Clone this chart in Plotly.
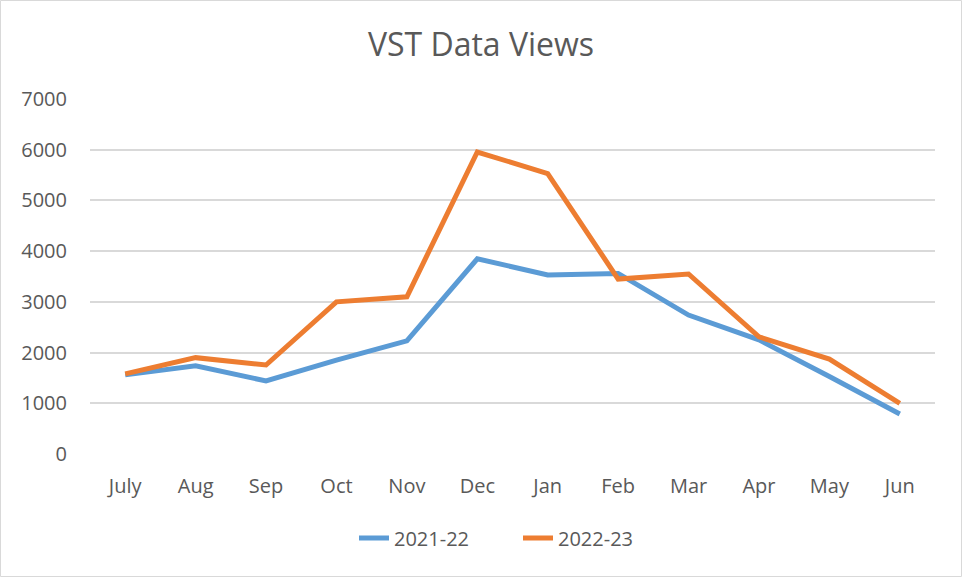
import plotly.graph_objects as go

months = ["July", "Aug", "Sep", "Oct", "Nov", "Dec", "Jan", "Feb", "Mar", "Apr", "May", "Jun"]
views_2021_22 = [1560, 1740, 1440, 1850, 2230, 3850, 3530, 3560, 2740, 2250, 1530, 790]
views_2022_23 = [1580, 1900, 1755, 3000, 3100, 5955, 5530, 3450, 3550, 2310, 1870, 1000]
series_names = ["2021-22", "2022-23"]
y_ticks = [0, 1000, 2000, 3000, 4000, 5000, 6000, 7000]

W, H = 962, 577
L, R, T, B = 90, 27, 99, 123
pw, ph = W - L - R, H - T - B

fig = go.Figure()
fig.add_trace(go.Scatter(x=months, y=views_2021_22, name=series_names[0], mode="lines",
                         line=dict(color="#5B9BD5", width=5)))
fig.add_trace(go.Scatter(x=months, y=views_2022_23, name=series_names[1], mode="lines",
                         line=dict(color="#ED7D31", width=5)))

font_family = "Open Sans, sans-serif"
fig.update_layout(
    width=W, height=H,
    margin=dict(l=L, r=R, t=T, b=B),
    paper_bgcolor="white", plot_bgcolor="white",
    font=dict(family=font_family, color="#595959", size=19),
    title=dict(text="VST Data Views", x=0.5, xanchor="center", y=1 - 45 / H, yanchor="middle",
               font=dict(size=32, color="#595959", family=font_family)),
    showlegend=True,
    legend=dict(orientation="h", x=(354 - L) / pw, xanchor="left", y=(454 - 538) / ph, yanchor="middle",
                font=dict(size=20, color="#595959"), entrywidth=119, itemwidth=30),
    xaxis=dict(type="category", categoryorder="array", categoryarray=months,
               range=[-0.5, len(months) - 0.5], showgrid=False, showline=False, zeroline=False,
               ticks="", ticklabelstandoff=18, tickfont=dict(size=20), fixedrange=True),
    yaxis=dict(range=[0, 7000], tickvals=y_ticks, showgrid=True, gridcolor="#D9D9D9", gridwidth=1.5,
               zeroline=False, showline=False, ticks="", ticklabelstandoff=22, tickfont=dict(size=20),
               fixedrange=True),
)
fig.add_shape(type="rect", xref="paper", yref="paper",
              x0=-L / pw + 0.0006, x1=1 + R / pw - 0.0006, y0=-B / ph + 0.0014, y1=1 + T / ph - 0.0014,
              line=dict(color="#D9D9D9", width=1), layer="below")

fig.write_html("out.html", config={"displayModeBar": False},
               post_script="document.body.style.margin='0';")
